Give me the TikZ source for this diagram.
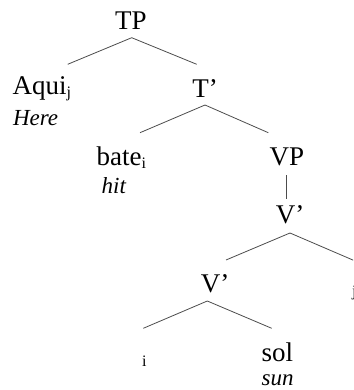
\documentclass[tikz,border=0pt]{standalone}
\usepackage{fontspec}
\setmainfont{Liberation Serif}
\newcommand{\sbs}[1]{\raisebox{-3pt}{\fontsize{16}{16}\selectfont #1}}
\begin{document}
\begin{tikzpicture}[x=1pt,y=-1pt,
  lbl/.style={inner sep=0pt,outer sep=0pt,font=\fontsize{27}{30}\selectfont},
  gloss/.style={inner sep=0pt,outer sep=0pt,font=\fontsize{23}{26}\selectfont\itshape},
  trace/.style={inner sep=0pt,outer sep=0pt,font=\fontsize{16}{16}\selectfont},
  branch/.style={line width=0.8pt,draw=black!70}]
\useasboundingbox (0,0) rectangle (353,390);
\clip (0,0) rectangle (353,390);
% labels
\node[lbl,anchor=base] (tp) at (131,29.3) {TP};
\node[lbl,anchor=base west] (aqui) at (12.7,95) {Aqui\sbs{j}};
\node[gloss,anchor=base west] (here) at (13,126) {Here};
\node[lbl,anchor=base] (tbar) at (205,97.7) {T’};
\node[lbl,anchor=base west] (bate) at (96.7,165) {bate\sbs{i}};
\node[gloss,anchor=base west] (hit) at (101.7,193) {hit};
\node[lbl,anchor=base] (vp) at (287,165) {VP};
\node[lbl,anchor=base] (vbar1) at (290,223) {V’};
\node[lbl,anchor=base] (vbar2) at (215,292.7) {V’};
\node[trace,anchor=base west] (ti) at (142,366) {i};
\node[lbl,anchor=base west] (sol) at (261.7,361.7) {sol};
\node[gloss,anchor=base west] (sun) at (261.7,385) {sun};
\node[trace,anchor=base west] (tj) at (352,296) {j};
% branch points
\coordinate (tpA) at (131.7,37.7);
\coordinate (tpL) at (67.7,64.3);
\coordinate (tpR) at (196.7,64.3);
\coordinate (tbA) at (205,105);
\coordinate (tbL) at (140,132.7);
\coordinate (tbR) at (268.3,132.7);
\coordinate (vpT) at (286,175);
\coordinate (vpB) at (286,199);
\coordinate (v1A) at (290,233);
\coordinate (v1L) at (226,260);
\coordinate (v1R) at (354,260.5);
\coordinate (v2A) at (207.3,301);
\coordinate (v2L) at (143.3,328.3);
\coordinate (v2R) at (271.7,328.3);
% branches
\draw[branch] (tpL) -- (tpA) -- (tpR);
\draw[branch] (tbL) -- (tbA) -- (tbR);
\draw[branch] (vpT) -- (vpB);
\draw[branch] (v1L) -- (v1A) -- (v1R);
\draw[branch] (v2L) -- (v2A) -- (v2R);
\end{tikzpicture}
\end{document}
